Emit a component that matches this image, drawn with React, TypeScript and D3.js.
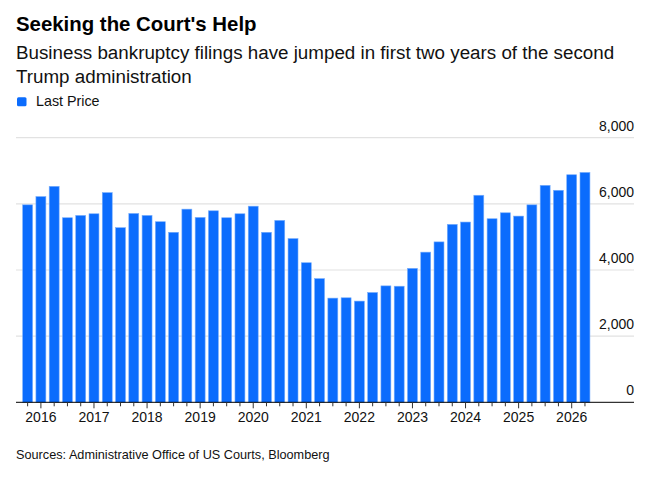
import React from "react";
import * as d3 from "d3";

const quarters: string[] = [
  "2015 Q4",
  "2016 Q1", "2016 Q2", "2016 Q3", "2016 Q4",
  "2017 Q1", "2017 Q2", "2017 Q3", "2017 Q4",
  "2018 Q1", "2018 Q2", "2018 Q3", "2018 Q4",
  "2019 Q1", "2019 Q2", "2019 Q3", "2019 Q4",
  "2020 Q1", "2020 Q2", "2020 Q3", "2020 Q4",
  "2021 Q1", "2021 Q2", "2021 Q3", "2021 Q4",
  "2022 Q1", "2022 Q2", "2022 Q3", "2022 Q4",
  "2023 Q1", "2023 Q2", "2023 Q3", "2023 Q4",
  "2024 Q1", "2024 Q2", "2024 Q3", "2024 Q4",
  "2025 Q1", "2025 Q2", "2025 Q3", "2025 Q4",
  "2026 Q1", "2026 Q2",
];

const lastPrice: number[] = [
  5970,
  6220, 6530, 5580, 5650,
  5700, 6340, 5280, 5710,
  5650, 5460, 5140, 5840,
  5590, 5790, 5580, 5700,
  5930, 5140, 5500, 4950,
  4220, 3740, 3150, 3160,
  3060, 3320, 3520, 3510,
  4050, 4540, 4850, 5380,
  5450, 6260, 5550, 5730,
  5630, 5970, 6560, 6410,
  6880, 6950,
];

const yTicks: number[] = [0, 2000, 4000, 6000, 8000];

const title = "Seeking the Court's Help";
const subtitleLines: string[] = [
  "Business bankruptcy filings have jumped in first two years of the second",
  "Trump administration",
];
const legendLabel = "Last Price";
const source = "Sources: Administrative Office of US Courts, Bloomberg";

const W = 663;
const H = 483;
const FONT = "'Liberation Sans', Arial, Helvetica, sans-serif";
const BLUE = "#0b6cfd";

export default function App() {
  const plotLeft = 16;
  const plotRight = 634;
  const y0 = 402.3;
  const yTop = 137.7;

  const x = d3
    .scaleBand<string>()
    .domain(quarters)
    .range([21, 591.6])
    .paddingInner(0.25)
    .paddingOuter(0.125);

  const y = d3.scaleLinear().domain([0, 8000]).range([y0, yTop]);
  const fmt = d3.format(",");

  return (
    <svg
      width={W}
      height={H}
      style={{ position: "absolute", left: 0, top: 0, background: "#fff" }}
      fontFamily={FONT}
    >
      <text x={16} y={30.5} fontSize={20.4} fontWeight="bold" fill="#000">
        {title}
      </text>
      {subtitleLines.map((l, i) => (
        <text key={i} x={16} y={58.5 + i * 24} fontSize={18.8} fill="#111">
          {l}
        </text>
      ))}
      <rect x={17} y={97.3} width={9.5} height={9} rx={1.5} fill={BLUE} />
      <text x={36} y={106} fontSize={14.3} fill="#111">
        {legendLabel}
      </text>

      {yTicks.map((t) => (
        <g key={t}>
          {t !== 0 && (
            <line
              x1={plotLeft}
              x2={plotRight}
              y1={y(t)}
              y2={y(t)}
              stroke="#e2e2e2"
              strokeWidth={1.2}
            />
          )}
          <text x={plotRight} y={y(t) - 7} fontSize={14} textAnchor="end" fill="#111">
            {fmt(t)}
          </text>
        </g>
      ))}

      {quarters.map((q, i) => (
        <rect
          key={q}
          x={x(q)!}
          y={y(lastPrice[i])}
          width={x.bandwidth()}
          height={y0 - y(lastPrice[i])}
          fill={BLUE}
          stroke="#78aefc"
          strokeWidth={0.6}
        />
      ))}

      <line x1={plotLeft} x2={plotRight} y1={y0} y2={y0} stroke="#000" strokeWidth={1} />
      {quarters.map((q) => {
        const cx = x(q)! + x.bandwidth() / 2;
        const major = q.endsWith("Q1");
        return (
          <g key={"t" + q}>
            <line x1={cx} x2={cx} y1={y0} y2={y0 + (major ? 6 : 4)} stroke="#333" strokeWidth={1} />
            {major && (
              <text x={cx} y={422} fontSize={14} textAnchor="middle" fill="#111">
                {q.slice(0, 4)}
              </text>
            )}
          </g>
        );
      })}

      <text x={16} y={459} fontSize={12.7} fill="#111">
        {source}
      </text>
    </svg>
  );
}
